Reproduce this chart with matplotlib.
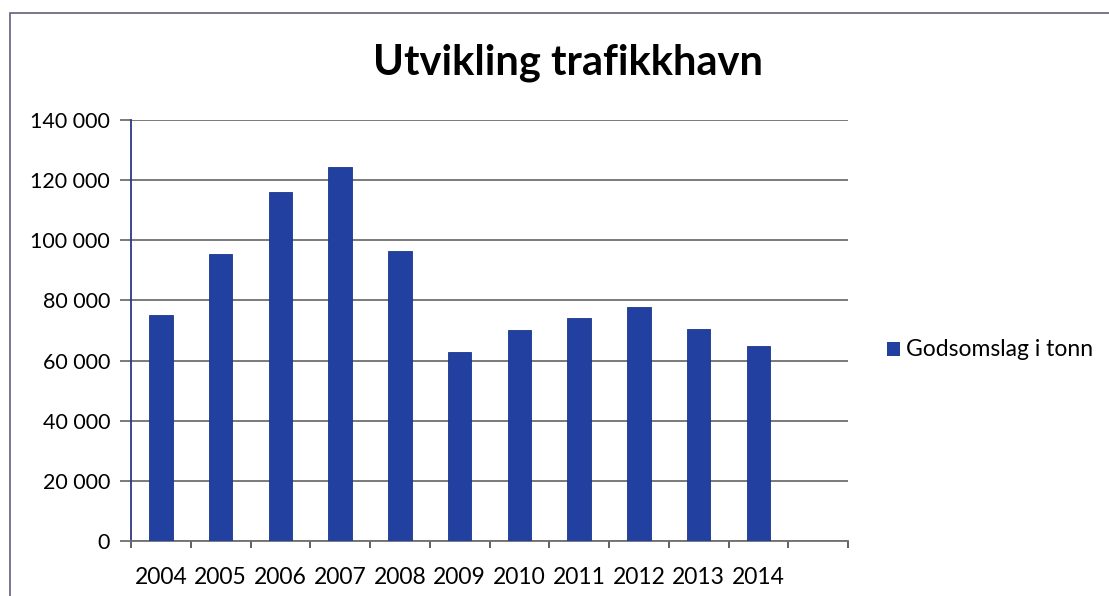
import numpy as np
import matplotlib
matplotlib.use("Agg")
from matplotlib import pyplot as plt
from matplotlib.patches import Rectangle

# data
years = ['2004', '2005', '2006', '2007', '2008', '2009', '2010', '2011', '2012', '2013', '2014']
tonn = [75000, 95300, 116000, 124300, 96300, 62800, 70200, 74000, 77800, 70400, 64800]
yticks = [0, 20000, 40000, 60000, 80000, 100000, 120000, 140000]
series_name = 'Godsomslag i tonn'
title = 'Utvikling trafikkhavn'

plt.rcParams['font.family'] = ['Lato', 'DejaVu Sans']

W, H = 1109, 596
fig = plt.figure(figsize=(W / 100, H / 100), dpi=100)
ax = fig.add_axes([131 / W, 1 - 541 / H, (848 - 131) / W, (541 - 120) / H])

n_slots = len(years) + 1  # empty slot at the end, like the original
x = np.arange(len(years))
ax.bar(x, tonn, width=0.39, color='#2140a0', edgecolor='#1a3590', linewidth=0.6, zorder=3)

ax.set_xlim(-0.5, n_slots - 0.5)
ax.set_ylim(0, 140000)

ax.set_yticks(yticks)
ax.set_yticklabels([f'{v:,}'.replace(',', ' ') for v in yticks], fontsize=15.5)
ax.yaxis.grid(True, color='#707070', linewidth=1.3, zorder=0)
ax.tick_params(axis='y', length=8, width=1.3, color='#707070', pad=7)

ax.set_xticks(np.arange(n_slots + 1) - 0.5)
ax.set_xticklabels([])
ax.set_xticks(x, minor=True)
ax.set_xticklabels(years, minor=True, fontsize=16.5)
ax.tick_params(axis='x', which='major', length=5, width=1.3, color='#555555')
ax.tick_params(axis='x', which='minor', length=0, pad=19)

for s in ['top', 'right']:
    ax.spines[s].set_visible(False)
ax.spines['left'].set_color('#303880')
ax.spines['left'].set_linewidth(1.3)
ax.spines['bottom'].set_color('#707070')
ax.spines['bottom'].set_linewidth(1.3)

fig.text(568 / W, 1 - 63 / H, title, fontsize=30, fontweight='bold', ha='center', va='center')

# legend
fig.patches.append(Rectangle((887 / W, 1 - 356 / H), 13 / W, 14 / H, transform=fig.transFigure,
                             facecolor='#2140a0', edgecolor='none'))
fig.text(906 / W, 1 - 350 / H, series_name, fontsize=16.5, ha='left', va='center')

# chart frame (cut off at right and bottom in the scan)
fig.patches.append(Rectangle((10 / W, -0.1), 1.2, 1 - 13 / H + 0.1, transform=fig.transFigure,
                             facecolor='none', edgecolor='#606080', linewidth=1.2))

fig.savefig('out.png', dpi=100)
